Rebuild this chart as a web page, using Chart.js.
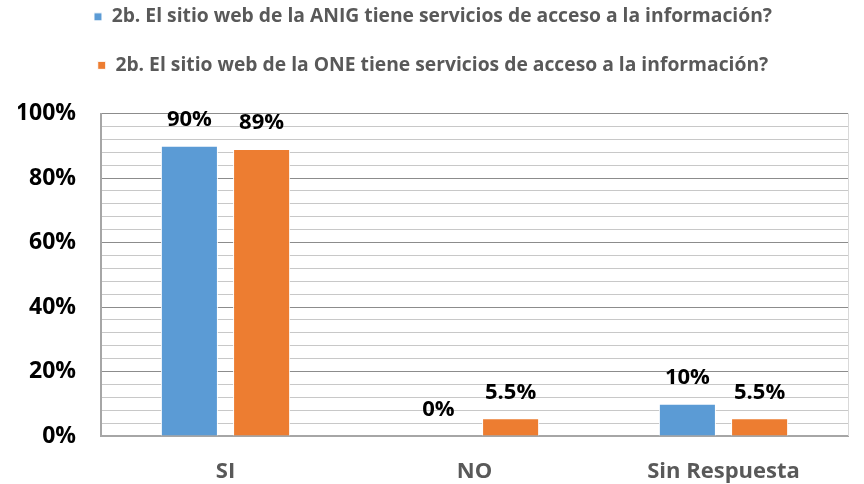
<!DOCTYPE html>
<html>
<head>
<meta charset="utf-8">
<script src="https://cdn.jsdelivr.net/npm/chart.js@4/dist/chart.umd.min.js"></script>
<style>
  html, body { margin: 0; padding: 0; background: #fff; }
  #wrap { width: 864px; height: 484px; }
</style>
</head>
<body>
<div id="wrap"><canvas id="chart" width="864" height="484"></canvas></div>
<script>
// chart data
const categories = ['SI', 'NO', 'Sin Respuesta'];
const seriesNames = [
    '2b. El sitio web de la ANIG tiene servicios de acceso a la información?',
    '2b. El sitio web de la ONE tiene servicios de acceso a la información?'
];
const anigValues = [90, 0, 10];
const oneValues = [89, 5.5, 5.5];
const anigLabels = ['90%', '0%', '10%'];
const oneLabels = ['89%', '5.5%', '5.5%'];
const yTickLabels = ['0%', '20%', '40%', '60%', '80%', '100%'];

const FONT = '"Open Sans", "Liberation Sans", sans-serif';

// draws the value text above each bar
const barLabels = {
    id: 'barLabels',
    afterDatasetsDraw(chart) {
        const ctx = chart.ctx;
        const texts = [anigLabels, oneLabels];
        ctx.save();
        ctx.font = 'bold 22px ' + FONT;
        ctx.fillStyle = '#000';
        ctx.textAlign = 'center';
        ctx.textBaseline = 'middle';
        chart.data.datasets.forEach((ds, i) => {
            chart.getDatasetMeta(i).data.forEach((bar, j) => {
                ctx.fillText(texts[i][j], bar.x, bar.y - 26);
            });
        });
        ctx.restore();
    }
};

// extra room under the legend + right border of the plot
const legendGap = {
    id: 'legendGap',
    beforeInit(chart) {
        const fit = chart.legend.fit;
        chart.legend.fit = function () {
            fit.bind(chart.legend)();
            this.height += 28.5;
        };
    },
    beforeDatasetsDraw(chart) {
        const {ctx, chartArea} = chart;
        ctx.save();
        ctx.strokeStyle = '#d9d9d9';
        ctx.lineWidth = 1;
        ctx.beginPath();
        ctx.moveTo(chartArea.right + 0.5, chartArea.top);
        ctx.lineTo(chartArea.right + 0.5, chartArea.bottom);
        ctx.stroke();
        ctx.restore();
    }
};

new Chart(document.getElementById('chart').getContext('2d'), {
    type: 'bar',
    data: {
        labels: categories,
        datasets: [
            {
                label: seriesNames[0],
                data: anigValues,
                backgroundColor: '#5B9BD5',
                borderColor: '#ffffff',
                borderWidth: 1,
                categoryPercentage: 0.58,
                barPercentage: 0.79
            },
            {
                label: seriesNames[1],
                data: oneValues,
                backgroundColor: '#ED7D31',
                borderColor: '#ffffff',
                borderWidth: 1,
                categoryPercentage: 0.58,
                barPercentage: 0.79
            }
        ]
    },
    options: {
        responsive: false,
        animation: false,
        layout: { padding: { left: 18, right: 16, top: -22, bottom: 0 } },
        plugins: {
            legend: {
                position: 'top',
                labels: {
                    boxWidth: 8,
                    boxHeight: 8,
                    padding: 29.2,
                    color: '#595959',
                    font: { family: FONT, size: 19.3, weight: 'bold' }
                }
            },
            tooltip: { enabled: false }
        },
        scales: {
            x: {
                grid: { display: false, drawTicks: false },
                border: { color: '#a6a6a6', width: 2 },
                afterFit: s => { s.height = 48; },
                ticks: {
                    color: '#595959',
                    padding: 23,
                    font: { family: FONT, size: 22, weight: 'bold' }
                }
            },
            y: {
                min: 0,
                max: 100,
                border: { color: '#a6a6a6', width: 2 },
                afterFit: s => { s.width = 83; },
                grid: {
                    drawTicks: false,
                    color: ctx => ctx.tick && ctx.tick.value % 20 === 0 ? '#8c8c8c' : '#c8c8c8'
                },
                ticks: {
                    stepSize: 4,
                    autoSkip: false,
                    padding: 25,
                    color: '#000',
                    font: { family: FONT, size: 23, weight: 'bold' },
                    callback: v => v % 20 === 0 ? yTickLabels[v / 20] : ''
                }
            }
        }
    },
    plugins: [barLabels, legendGap]
});
</script>
</body>
</html>
